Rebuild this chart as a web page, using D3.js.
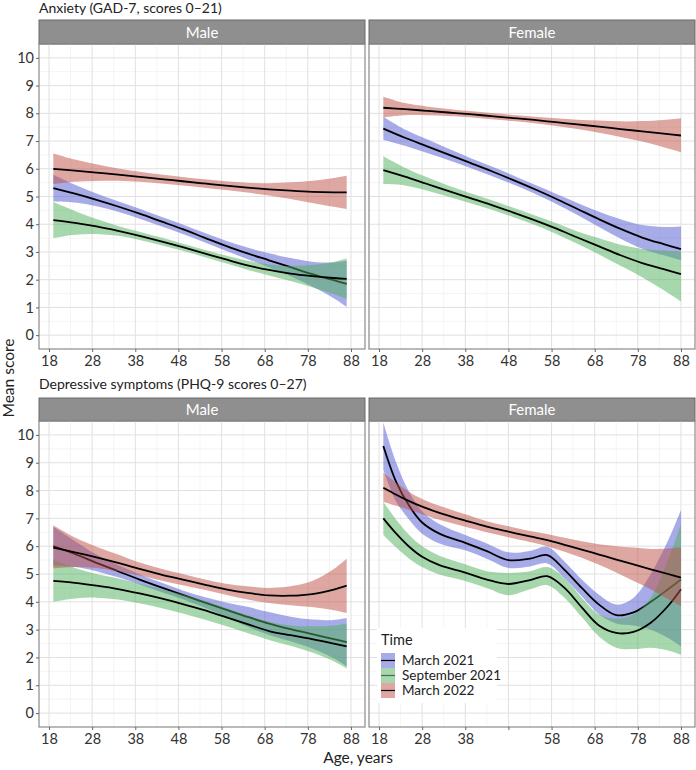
<!DOCTYPE html>
<html>
<head>
<meta charset="utf-8">
<script src="https://cdn.jsdelivr.net/npm/d3@7"></script>
<style>
  body { margin: 0; background: #fff; }
  svg text { font-family: "Lato", "Open Sans", sans-serif; }
</style>
</head>
<body>
<div id="chart"></div>
<script>
// ---- data ----
var timeLabels = ["March 2021", "September 2021", "March 2022"];
var xTicks = [18, 28, 38, 48, 58, 68, 78, 88];
var xTickLabels = ["18", "28", "38", "48", "58", "68", "78", "88"];
var xTickLabelsDepFemale = ["18", "28", "38", "", "58", "68", "78", "88"];
var yTicks = [0, 1, 2, 3, 4, 5, 6, 7, 8, 9, 10];

var agesMaleAnx = [19, 24, 29, 34, 39, 44, 49, 54, 59, 64, 69, 74, 79, 84, 87];
var anxMaleMar21   = [5.30, 5.10, 4.88, 4.64, 4.38, 4.10, 3.82, 3.52, 3.22, 2.95, 2.70, 2.45, 2.20, 1.98, 1.85];
var anxMaleMar21Lo = [4.82, 4.78, 4.65, 4.45, 4.20, 3.93, 3.65, 3.35, 3.04, 2.74, 2.45, 2.12, 1.75, 1.33, 1.02];
var anxMaleMar21Hi = [5.78, 5.42, 5.11, 4.83, 4.56, 4.27, 3.99, 3.69, 3.40, 3.16, 2.95, 2.78, 2.65, 2.62, 2.68];
var anxMaleSep21   = [4.15, 4.05, 3.92, 3.76, 3.58, 3.38, 3.17, 2.95, 2.73, 2.52, 2.35, 2.22, 2.13, 2.06, 2.03];
var anxMaleSep21Lo = [3.50, 3.62, 3.65, 3.58, 3.43, 3.24, 3.04, 2.82, 2.59, 2.36, 2.15, 1.95, 1.73, 1.48, 1.30];
var anxMaleSep21Hi = [4.80, 4.48, 4.19, 3.94, 3.73, 3.52, 3.30, 3.08, 2.87, 2.68, 2.55, 2.49, 2.53, 2.64, 2.76];
var anxMaleMar22   = [6.00, 5.93, 5.86, 5.79, 5.71, 5.63, 5.55, 5.47, 5.39, 5.32, 5.26, 5.21, 5.17, 5.15, 5.15];
var anxMaleMar22Lo = [5.45, 5.53, 5.56, 5.57, 5.53, 5.47, 5.40, 5.32, 5.23, 5.14, 5.04, 4.91, 4.77, 4.63, 4.55];
var anxMaleMar22Hi = [6.55, 6.33, 6.16, 6.01, 5.89, 5.79, 5.70, 5.62, 5.55, 5.50, 5.48, 5.51, 5.57, 5.67, 5.75];

var agesFemaleAnx = [19, 24, 29, 34, 39, 44, 49, 54, 59, 64, 69, 74, 79, 84, 88];
var anxFemaleMar21   = [7.45, 7.12, 6.82, 6.52, 6.22, 5.92, 5.60, 5.27, 4.92, 4.55, 4.18, 3.83, 3.52, 3.28, 3.10];
var anxFemaleMar21Lo = [7.05, 6.83, 6.58, 6.32, 6.04, 5.75, 5.44, 5.11, 4.74, 4.33, 3.90, 3.48, 3.12, 2.88, 2.70];
var anxFemaleMar21Hi = [7.88, 7.42, 7.07, 6.73, 6.40, 6.09, 5.77, 5.43, 5.10, 4.77, 4.45, 4.18, 3.97, 3.90, 3.92];
var anxFemaleSep21   = [5.95, 5.72, 5.46, 5.20, 4.95, 4.70, 4.43, 4.15, 3.85, 3.52, 3.20, 2.88, 2.60, 2.38, 2.20];
var anxFemaleSep21Lo = [5.45, 5.40, 5.22, 5.00, 4.77, 4.53, 4.26, 3.98, 3.66, 3.30, 2.91, 2.50, 2.09, 1.62, 1.22];
var anxFemaleSep21Hi = [6.45, 6.04, 5.70, 5.40, 5.13, 4.87, 4.60, 4.32, 4.04, 3.74, 3.49, 3.26, 3.11, 3.05, 3.00];
var anxFemaleMar22   = [8.20, 8.15, 8.09, 8.03, 7.97, 7.90, 7.83, 7.76, 7.68, 7.60, 7.52, 7.43, 7.35, 7.27, 7.20];
var anxFemaleMar22Lo = [7.85, 7.93, 7.93, 7.90, 7.86, 7.79, 7.72, 7.64, 7.54, 7.43, 7.30, 7.15, 6.98, 6.78, 6.60];
var anxFemaleMar22Hi = [8.60, 8.37, 8.25, 8.16, 8.08, 8.01, 7.94, 7.88, 7.82, 7.77, 7.74, 7.71, 7.72, 7.76, 7.82];

var agesMaleDep = [19, 24, 29, 34, 39, 44, 49, 54, 59, 64, 69, 74, 79, 84, 87];
var depMaleMar21   = [6.00, 5.72, 5.40, 5.10, 4.80, 4.52, 4.25, 3.98, 3.72, 3.46, 3.22, 3.02, 2.84, 2.66, 2.55];
var depMaleMar21Lo = [5.30, 5.25, 5.10, 4.88, 4.62, 4.35, 4.09, 3.80, 3.46, 3.10, 2.81, 2.58, 2.32, 1.97, 1.68];
var depMaleMar21Hi = [6.70, 6.19, 5.70, 5.32, 4.98, 4.69, 4.41, 4.17, 3.98, 3.82, 3.63, 3.46, 3.36, 3.35, 3.42];
var depMaleSep21   = [4.75, 4.68, 4.58, 4.46, 4.30, 4.12, 3.92, 3.70, 3.45, 3.20, 2.95, 2.80, 2.66, 2.50, 2.40];
var depMaleSep21Lo = [4.00, 4.12, 4.15, 4.08, 3.95, 3.78, 3.58, 3.36, 3.13, 2.88, 2.63, 2.42, 2.18, 1.86, 1.60];
var depMaleSep21Hi = [5.50, 5.22, 5.00, 4.84, 4.65, 4.46, 4.26, 4.04, 3.78, 3.52, 3.28, 3.15, 3.12, 3.15, 3.22];
var depMaleMar22   = [5.95, 5.78, 5.60, 5.40, 5.18, 4.98, 4.80, 4.62, 4.45, 4.32, 4.23, 4.22, 4.28, 4.44, 4.58];
var depMaleMar22Lo = [5.20, 5.25, 5.22, 5.10, 4.95, 4.77, 4.60, 4.43, 4.25, 4.08, 3.96, 3.88, 3.81, 3.70, 3.60];
var depMaleMar22Hi = [6.75, 6.31, 5.98, 5.70, 5.41, 5.19, 5.00, 4.81, 4.65, 4.56, 4.50, 4.56, 4.75, 5.18, 5.55];

var agesFemaleDep = [19, 22, 25, 28, 32, 38, 43, 48, 53, 57, 61, 65, 69, 73, 77, 81, 85, 88];
var depFemaleMar21   = [9.60, 8.30, 7.45, 6.85, 6.45, 6.12, 5.82, 5.50, 5.55, 5.68, 5.15, 4.50, 3.90, 3.52, 3.62, 4.00, 4.45, 4.80];
var depFemaleMar21Lo = [8.75, 7.60, 6.95, 6.45, 6.10, 5.85, 5.55, 5.22, 5.27, 5.38, 4.85, 4.20, 3.55, 3.22, 3.15, 3.00, 2.70, 2.40];
var depFemaleMar21Hi = [10.45, 9.00, 7.95, 7.25, 6.80, 6.40, 6.10, 5.78, 5.83, 5.98, 5.45, 4.80, 4.25, 3.90, 4.15, 5.00, 6.20, 7.30];
var depFemaleSep21   = [7.00, 6.45, 5.98, 5.62, 5.32, 5.05, 4.80, 4.64, 4.78, 4.92, 4.50, 3.80, 3.15, 2.88, 2.92, 3.25, 3.85, 4.45];
var depFemaleSep21Lo = [6.40, 5.95, 5.55, 5.25, 4.98, 4.75, 4.50, 4.24, 4.45, 4.60, 4.15, 3.45, 2.75, 2.35, 2.30, 2.35, 2.25, 2.10];
var depFemaleSep21Hi = [7.60, 6.95, 6.40, 6.00, 5.66, 5.35, 5.10, 5.04, 5.10, 5.25, 4.85, 4.15, 3.55, 3.40, 3.55, 4.15, 5.50, 6.80];
var depFemaleMar22   = [8.10, 7.85, 7.62, 7.42, 7.20, 6.92, 6.70, 6.52, 6.35, 6.22, 6.05, 5.88, 5.70, 5.52, 5.35, 5.17, 5.00, 4.87];
var depFemaleMar22Lo = [7.60, 7.45, 7.30, 7.15, 6.95, 6.70, 6.50, 6.32, 6.15, 6.00, 5.80, 5.58, 5.33, 5.05, 4.75, 4.45, 4.10, 3.85];
var depFemaleMar22Hi = [8.65, 8.28, 7.95, 7.70, 7.45, 7.15, 6.90, 6.72, 6.55, 6.44, 6.30, 6.18, 6.07, 6.00, 5.95, 5.90, 5.92, 5.95];

// ---- layout ----
var W = 696, H = 770;
var fills = ["#5059d2", "#50af5a", "#be5046"];
var colX = [39, 369], panelW = 326;
var rows = [
  { title: "Anxiety (GAD-7, scores 0\u201321)", titleY: 13, strip: 20, top: 44, bottom: 349 },
  { title: "Depressive symptoms (PHQ-9 scores 0\u201327)", titleY: 389, strip: 398, top: 421, bottom: 727 }
];

function bundle(ages, m, lo, hi) {
  return ages.map(function (a, i) { return { age: a, m: m[i], lo: lo[i], hi: hi[i] }; });
}

var panels = [
  { row: 0, col: 0, label: "Male", ticks: xTickLabels, series: [
    bundle(agesMaleAnx, anxMaleMar21, anxMaleMar21Lo, anxMaleMar21Hi),
    bundle(agesMaleAnx, anxMaleSep21, anxMaleSep21Lo, anxMaleSep21Hi),
    bundle(agesMaleAnx, anxMaleMar22, anxMaleMar22Lo, anxMaleMar22Hi)] },
  { row: 0, col: 1, label: "Female", ticks: xTickLabels, series: [
    bundle(agesFemaleAnx, anxFemaleMar21, anxFemaleMar21Lo, anxFemaleMar21Hi),
    bundle(agesFemaleAnx, anxFemaleSep21, anxFemaleSep21Lo, anxFemaleSep21Hi),
    bundle(agesFemaleAnx, anxFemaleMar22, anxFemaleMar22Lo, anxFemaleMar22Hi)] },
  { row: 1, col: 0, label: "Male", ticks: xTickLabels, series: [
    bundle(agesMaleDep, depMaleMar21, depMaleMar21Lo, depMaleMar21Hi),
    bundle(agesMaleDep, depMaleSep21, depMaleSep21Lo, depMaleSep21Hi),
    bundle(agesMaleDep, depMaleMar22, depMaleMar22Lo, depMaleMar22Hi)] },
  { row: 1, col: 1, label: "Female", ticks: xTickLabelsDepFemale, series: [
    bundle(agesFemaleDep, depFemaleMar21, depFemaleMar21Lo, depFemaleMar21Hi),
    bundle(agesFemaleDep, depFemaleSep21, depFemaleSep21Lo, depFemaleSep21Hi),
    bundle(agesFemaleDep, depFemaleMar22, depFemaleMar22Lo, depFemaleMar22Hi)] }
];

var svg = d3.select("#chart").append("svg")
  .attr("width", W).attr("height", H);

var x = d3.scaleLinear().domain([15.68, 91.25]).range([0, panelW]);
var minorX = [23, 33, 43, 53, 63, 73, 83];
var minorY = [0.5, 1.5, 2.5, 3.5, 4.5, 5.5, 6.5, 7.5, 8.5, 9.5];
var curve = d3.curveCatmullRom.alpha(0.5);

rows.forEach(function (r) {
  svg.append("text")
    .attr("x", 39).attr("y", r.titleY)
    .attr("font-size", 14).attr("fill", "#222")
    .text(r.title);
});

panels.forEach(function (p, pi) {
  var r = rows[p.row];
  var h = r.bottom - r.top;
  var y = d3.scaleLinear().domain([-0.5, 10.5]).range([h, 0]);

  // strip
  svg.append("rect")
    .attr("x", colX[p.col]).attr("y", r.strip)
    .attr("width", panelW).attr("height", r.top - r.strip)
    .attr("fill", "#8f8f8f").attr("stroke", "#6b6b6b").attr("stroke-width", 1);
  svg.append("text")
    .attr("x", colX[p.col] + panelW / 2).attr("y", (r.strip + r.top) / 2 + 5.5)
    .attr("text-anchor", "middle").attr("font-size", 15).attr("fill", "#fff")
    .text(p.label);

  var g = svg.append("g").attr("transform", "translate(" + colX[p.col] + "," + r.top + ")");

  g.append("defs").append("clipPath").attr("id", "clip" + pi)
    .append("rect").attr("width", panelW).attr("height", h);

  // grid
  g.append("g").selectAll("line").data(minorX).enter().append("line")
    .attr("x1", function (d) { return x(d); }).attr("x2", function (d) { return x(d); })
    .attr("y1", 0).attr("y2", h).attr("stroke", "#efefef").attr("stroke-width", 0.7);
  g.append("g").selectAll("line").data(minorY).enter().append("line")
    .attr("y1", function (d) { return y(d); }).attr("y2", function (d) { return y(d); })
    .attr("x1", 0).attr("x2", panelW).attr("stroke", "#efefef").attr("stroke-width", 0.7);
  g.append("g").selectAll("line").data(xTicks).enter().append("line")
    .attr("x1", function (d) { return x(d); }).attr("x2", function (d) { return x(d); })
    .attr("y1", 0).attr("y2", h).attr("stroke", "#e0e0e0").attr("stroke-width", 1);
  g.append("g").selectAll("line").data(yTicks).enter().append("line")
    .attr("y1", function (d) { return y(d); }).attr("y2", function (d) { return y(d); })
    .attr("x1", 0).attr("x2", panelW).attr("stroke", "#e0e0e0").attr("stroke-width", 1);

  var area = d3.area().curve(curve)
    .x(function (d) { return x(d.age); })
    .y0(function (d) { return y(d.lo); })
    .y1(function (d) { return y(d.hi); });
  var line = d3.line().curve(curve)
    .x(function (d) { return x(d.age); })
    .y(function (d) { return y(d.m); });

  var plot = g.append("g").attr("clip-path", "url(#clip" + pi + ")");
  p.series.forEach(function (s, si) {
    plot.append("path").datum(s).attr("d", area)
      .attr("fill", fills[si]).attr("fill-opacity", 0.5);
    plot.append("path").datum(s).attr("d", line)
      .attr("fill", "none").attr("stroke", "#000").attr("stroke-width", 1.8);
  });

  // border
  g.append("rect").attr("width", panelW).attr("height", h)
    .attr("fill", "none").attr("stroke", "#8a8a8a").attr("stroke-width", 1.2);

  // x axis
  var xa = g.append("g").attr("transform", "translate(0," + h + ")")
    .call(d3.axisBottom(x).tickValues(xTicks).tickSize(3).tickPadding(4)
      .tickFormat(function (d, i) { return p.ticks[i]; }));
  xa.select(".domain").remove();
  xa.selectAll("line").attr("stroke", "#666");
  xa.selectAll("text").attr("font-size", 14.5).attr("fill", "#333")
    .attr("font-family", "Lato, sans-serif");

  if (p.col === 0) {
    var ya = g.append("g")
      .call(d3.axisLeft(y).tickValues(yTicks).tickSize(3).tickPadding(2));
    ya.select(".domain").remove();
    ya.selectAll("line").attr("stroke", "#666");
    ya.selectAll("text").attr("font-size", 14.5).attr("fill", "#333")
      .attr("font-family", "Lato, sans-serif");
  }

  // legend in the last panel
  if (pi === 3) {
    var lg = svg.append("g").attr("transform", "translate(377,628)");
    lg.append("rect").attr("width", 120).attr("height", 75).attr("fill", "#fff");
    lg.append("text").attr("x", 4).attr("y", 17).attr("font-size", 14.5).attr("fill", "#222").text("Time");
    timeLabels.forEach(function (t, i) {
      var ky = 25 + i * 15;
      lg.append("rect").attr("x", 4).attr("y", ky).attr("width", 14).attr("height", 15)
        .attr("fill", fills[i]).attr("fill-opacity", 0.5);
      lg.append("line").attr("x1", 4).attr("x2", 18).attr("y1", ky + 7.5).attr("y2", ky + 7.5)
        .attr("stroke", i === 1 ? "#4c6a50" : "#000").attr("stroke-width", 1.2);
      lg.append("text").attr("x", 25).attr("y", ky + 12).attr("font-size", 13.5).attr("fill", "#222").text(t);
    });
  }
});

svg.append("text")
  .attr("transform", "translate(14,378) rotate(-90)")
  .attr("text-anchor", "middle").attr("font-size", 15.5).attr("fill", "#222")
  .text("Mean score");
svg.append("text")
  .attr("x", 358).attr("y", 763)
  .attr("text-anchor", "middle").attr("font-size", 15.5).attr("fill", "#222")
  .text("Age, years");
</script>
</body>
</html>
